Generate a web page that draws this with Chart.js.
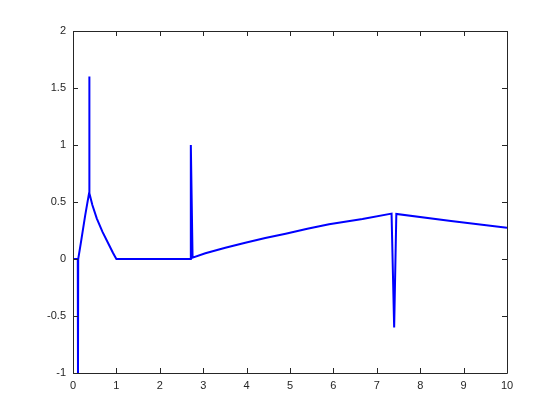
<!DOCTYPE html>
<html>
<head>
<meta charset="utf-8">
<script src="https://cdn.jsdelivr.net/npm/chart.js@4"></script>
<style>
  body { margin: 0; background: #fff; }
  #wrap { width: 560px; height: 420px; }
</style>
</head>
<body>
<div id="wrap"><canvas id="plot" width="560" height="420"></canvas></div>
<script>
// values
const xValues = [0, 0.11, 0.115, 0.12, 0.18, 0.23, 0.28, 0.33, 0.37, 0.375, 0.38,
    0.446, 0.547, 0.677, 0.831, 0.92, 0.97, 1.0,
    2.70, 2.715, 2.755, 3.05, 3.51, 3.97, 4.43, 4.9, 5.4, 5.9, 6.67, 7.34,
    7.40, 7.45, 8.71, 10];
const yValues = [0, 0, -1, 0, 0.14, 0.26, 0.38, 0.49, 0.576, 1.6, 0.576,
    0.474, 0.357, 0.24, 0.123, 0.055, 0.02, 0,
    0, 1.0, 0.012, 0.05, 0.099, 0.143, 0.184, 0.222, 0.265, 0.304, 0.351, 0.398,
    -0.6, 0.395, 0.333, 0.275];
const xTicks = [0, 1, 2, 3, 4, 5, 6, 7, 8, 9, 10];
const yTicks = [-1, -0.5, 0, 0.5, 1, 1.5, 2];

const axisColor = '#262626';

const points = xValues.map((x, i) => ({ x: x, y: yValues[i] }));

// matlab style box with ticks pointing inward on all sides
const boxTicks = {
    id: 'boxTicks',
    afterDraw(chart) {
        const { ctx, chartArea: a, scales } = chart;
        const len = 5;
        ctx.save();
        ctx.strokeStyle = axisColor;
        ctx.lineWidth = 1;
        ctx.beginPath();
        ctx.rect(Math.round(a.left) + 0.5, Math.round(a.top) + 0.5,
            Math.round(a.right - a.left), Math.round(a.bottom - a.top));
        xTicks.forEach(v => {
            const px = Math.round(scales.x.getPixelForValue(v)) + 0.5;
            ctx.moveTo(px, a.bottom); ctx.lineTo(px, a.bottom - len);
            ctx.moveTo(px, a.top); ctx.lineTo(px, a.top + len);
        });
        yTicks.forEach(v => {
            const py = Math.round(scales.y.getPixelForValue(v)) + 0.5;
            ctx.moveTo(a.left, py); ctx.lineTo(a.left + len, py);
            ctx.moveTo(a.right, py); ctx.lineTo(a.right - len, py);
        });
        ctx.stroke();
        ctx.restore();
    }
};

const tickFont = { family: 'Liberation Sans, Arial, sans-serif', size: 11 };

new Chart(document.getElementById('plot'), {
    type: 'line',
    data: {
        datasets: [{
            data: points,
            borderColor: '#0000ff',
            borderWidth: 2,
            pointRadius: 0,
            tension: 0,
            fill: false
        }]
    },
    options: {
        responsive: false,
        animation: false,
        layout: { padding: { left: 0, right: 53, top: 31, bottom: 0 } },
        plugins: { legend: { display: false }, tooltip: { enabled: false } },
        scales: {
            x: {
                type: 'linear',
                min: 0,
                max: 10,
                afterBuildTicks: s => { s.ticks = xTicks.map(v => ({ value: v })); },
                afterFit: s => { s.height = 47; },
                grid: { display: false, drawTicks: false },
                border: { display: false },
                ticks: {
                    color: axisColor,
                    font: tickFont,
                    padding: 6,
                    maxRotation: 0,
                    callback: v => String(v)
                }
            },
            y: {
                type: 'linear',
                min: -1,
                max: 2,
                afterBuildTicks: s => { s.ticks = yTicks.map(v => ({ value: v })); },
                afterFit: s => { s.width = 73; },
                grid: { display: false, drawTicks: false },
                border: { display: false },
                ticks: {
                    color: axisColor,
                    font: tickFont,
                    padding: 7,
                    callback: v => String(v)
                }
            }
        }
    },
    plugins: [boxTicks]
});
</script>
</body>
</html>
